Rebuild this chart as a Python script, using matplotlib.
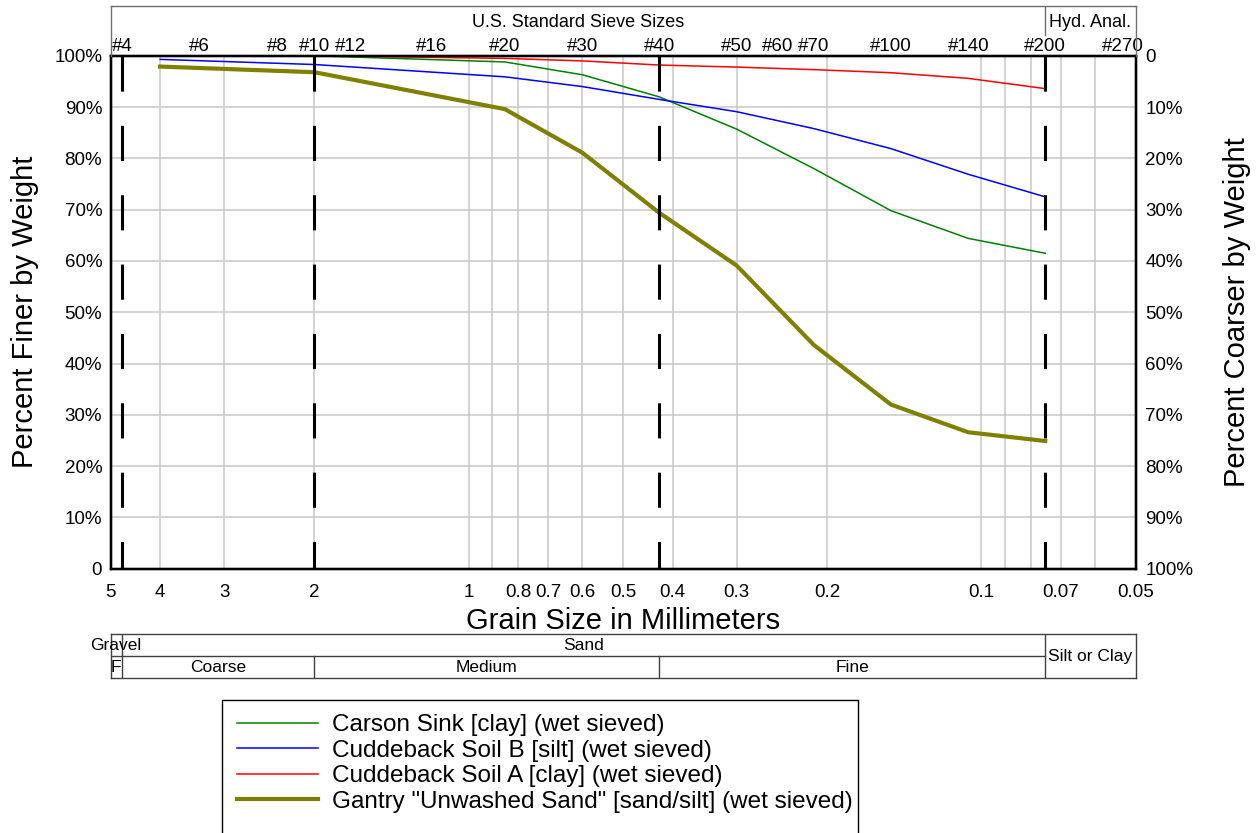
import matplotlib.pyplot as plt
from matplotlib.ticker import NullFormatter
from matplotlib.patches import Rectangle

plt.rcParams['font.family'] = 'Liberation Sans'

# sieve openings (mm) used in the wet sieve tests
sieve_mm = [4.0, 2.0, 0.85, 0.6, 0.425, 0.3, 0.212, 0.15, 0.106, 0.075]

# percent finer by weight for each sample
carson_sink = [100.0, 100.0, 98.8, 96.3, 92.0, 85.7, 78.0, 69.8, 64.4, 61.5]
cuddeback_b = [99.3, 98.3, 95.9, 94.0, 91.5, 89.1, 85.8, 81.9, 76.9, 72.5]
cuddeback_a = [100.0, 100.0, 99.5, 99.0, 98.2, 97.8, 97.3, 96.7, 95.6, 93.6]
gantry_sand = [97.9, 96.8, 89.6, 81.1, 69.4, 59.1, 43.6, 32.0, 26.6, 24.9]

sample_names = [
    'Carson Sink [clay] (wet sieved)',
    'Cuddeback Soil B [silt] (wet sieved)',
    'Cuddeback Soil A [clay] (wet sieved)',
    'Gantry "Unwashed Sand" [sand/silt] (wet sieved)',
]
sample_colors = ['#008000', '#0000ff', '#ff0000', '#808000']
sample_widths = [1.1, 1.1, 1.1, 3.0]

# U.S. standard sieve numbers along the top
sieve_names = ['#4', '#6', '#8', '#10', '#12', '#16', '#20', '#30', '#40',
               '#50', '#60', '#70', '#100', '#140', '#200', '#270']
sieve_openings = [4.75, 3.35, 2.36, 2.0, 1.7, 1.18, 0.85, 0.6, 0.425,
                  0.3, 0.25, 0.212, 0.15, 0.106, 0.075, 0.053]
sieve_marks = [2.36, 1.7, 0.85, 0.212, 0.15, 0.106, 0.053]

mm_ticks = [5, 4, 3, 2, 1, 0.8, 0.7, 0.6, 0.5, 0.4, 0.3, 0.2, 0.1, 0.07, 0.05]
mm_labels = ['5', '4', '3', '2', '1', '0.8', '0.7', '0.6', '0.5', '0.4',
             '0.3', '0.2', '0.1', '0.07', '0.05']
mm_minor = [0.9, 0.09, 0.08, 0.06]

pct_ticks = list(range(0, 101, 10))
finer_labels = ['0' if p == 0 else f'{p}%' for p in pct_ticks]
coarser_labels = ['0' if p == 100 else f'{100 - p}%' for p in pct_ticks]

# soil classification boundaries (mm)
boundaries = [4.75, 2.0, 0.425, 0.075]
soil_groups = [('Gravel', 5.0, 4.75), ('Sand', 4.75, 0.075)]
sand_grades = [('F', 5.0, 4.75), ('Coarse', 4.75, 2.0),
               ('Medium', 2.0, 0.425), ('Fine', 0.425, 0.075)]

W, H = 1258, 833
fig = plt.figure(figsize=(W / 100, H / 100), dpi=100)

left = 110.5 / W
width = 1025 / W
bottom = (H - 568.7) / H
height = 512.9 / H
ax = fig.add_axes([left, bottom, width, height])

for vals, name, col, lw in zip([carson_sink, cuddeback_b, cuddeback_a, gantry_sand],
                               sample_names, sample_colors, sample_widths):
    ax.plot(sieve_mm, vals, color=col, lw=lw, label=name, zorder=3)

for b in boundaries:
    ax.plot([b, b], [100, 0], color='black', lw=2.2,
            linestyle=(0, (11.5, 11.2)), zorder=4)

ax.set_xscale('log')
ax.set_xlim(5, 0.05)
ax.set_ylim(0, 100)
ax.set_xticks(mm_ticks, mm_labels)
ax.set_xticks(mm_minor, minor=True)
ax.xaxis.set_minor_formatter(NullFormatter())
ax.set_yticks(pct_ticks, finer_labels)
ax.grid(True, which='both', axis='x', color='#c8c8c8', lw=1.1)
ax.grid(True, which='major', axis='y', color='#c8c8c8', lw=1.1)
ax.set_axisbelow(True)
ax.tick_params(axis='x', which='both', length=0, labelsize=13.5, pad=11)
ax.tick_params(axis='y', length=0, labelsize=13.5, pad=6)
for sp in ax.spines.values():
    sp.set_linewidth(1.6)

ax.set_xlabel('Grain Size in Millimeters', fontsize=21)
ax.xaxis.set_label_coords(0.5, -0.102)
ax.xaxis.label.set_va('center')
ax.set_ylabel('Percent Finer by Weight', fontsize=21)
ax.yaxis.set_label_coords(-0.0834, 0.5)
ax.yaxis.label.set_va('center')

# percent coarser on the right
ax_r = ax.twinx()
ax_r.set_ylim(0, 100)
ax_r.set_yticks(pct_ticks, coarser_labels)
ax_r.tick_params(axis='y', length=0, labelsize=13.5, pad=7)
ax_r.set_ylabel('Percent Coarser by Weight', fontsize=21, rotation=90)
ax_r.yaxis.set_label_coords(1.099, 0.5)
ax_r.yaxis.label.set_va('center')
for sp in ax_r.spines.values():
    sp.set_linewidth(1.6)

# sieve numbers on top
ax_t = ax.twiny()
ax_t.set_xscale('log')
ax_t.set_xlim(5, 0.05)
ax_t.set_xticks(sieve_openings, sieve_names)
ax_t.set_xticks(sieve_marks, minor=True)
ax_t.xaxis.set_minor_formatter(NullFormatter())
ax_t.tick_params(axis='x', which='major', length=0, labelsize=13.5, pad=0.5)
ax_t.tick_params(axis='x', which='minor', direction='in', length=10,
                 width=1.1, color='#c8c8c8')
for sp in ax_t.spines.values():
    sp.set_linewidth(1.6)

# header box above the sieve numbers
ax_h = fig.add_axes([left, bottom + height, width, 49.7 / H])
ax_h.set_xscale('log')
ax_h.set_xlim(5, 0.05)
ax_h.set_ylim(0, 1)
ax_h.set_xticks([])
ax_h.set_yticks([])
ax_h.minorticks_off()
ax_h.patch.set_alpha(0)
ax_h.spines['bottom'].set_visible(False)
for s in ['top', 'left', 'right']:
    ax_h.spines[s].set_color('#707070')
    ax_h.spines[s].set_linewidth(1.0)
ax_h.plot([0.075, 0.075], [0.42, 1.0], color='#707070', lw=1.0)
ax_h.text((5.0 * 0.075) ** 0.5, 0.68, 'U.S. Standard Sieve Sizes',
          ha='center', va='center', fontsize=13)
ax_h.text((0.075 * 0.05) ** 0.5, 0.68, 'Hyd. Anal.',
          ha='center', va='center', fontsize=13)

# soil classification table
ax_c = fig.add_axes([left, (H - 678) / H, width, 44 / H])
ax_c.set_xscale('log')
ax_c.set_xlim(5, 0.05)
ax_c.set_ylim(0, 2)
ax_c.set_xticks([])
ax_c.set_yticks([])
ax_c.minorticks_off()
for sp in ax_c.spines.values():
    sp.set_color('#404040')
    sp.set_linewidth(1.0)
tab_kw = dict(color='#404040', lw=1.0)
ax_c.plot([5.0, 0.075], [1, 1], **tab_kw)
ax_c.plot([4.75, 4.75], [0, 2], **tab_kw)
ax_c.plot([0.075, 0.075], [0, 2], **tab_kw)
for b in [2.0, 0.425]:
    ax_c.plot([b, b], [0, 1], **tab_kw)
for name, a, b in soil_groups:
    ax_c.text((a * b) ** 0.5, 1.5, name, ha='center', va='center', fontsize=12.5)
for name, a, b in sand_grades:
    ax_c.text((a * b) ** 0.5, 0.5, name, ha='center', va='center', fontsize=12.5)
ax_c.text((0.075 * 0.05) ** 0.5, 1.0, 'Silt or Clay', ha='center', va='center',
          fontsize=12.5)

# legend box
fig.patches.append(Rectangle((222 / W, -0.02), (858 - 222) / W, (H - 700) / H + 0.02,
                             transform=fig.transFigure, facecolor='white',
                             edgecolor='black', lw=1.0))
handles, labels = ax.get_legend_handles_labels()
fig.legend(handles, labels, loc='upper left', bbox_to_anchor=(237 / W, 1 - 714 / H),
           frameon=False, fontsize=17.5, handlelength=3.33, handletextpad=0.58,
           labelspacing=0.15, borderpad=0, borderaxespad=0)

fig.savefig('out.png', dpi=100)
